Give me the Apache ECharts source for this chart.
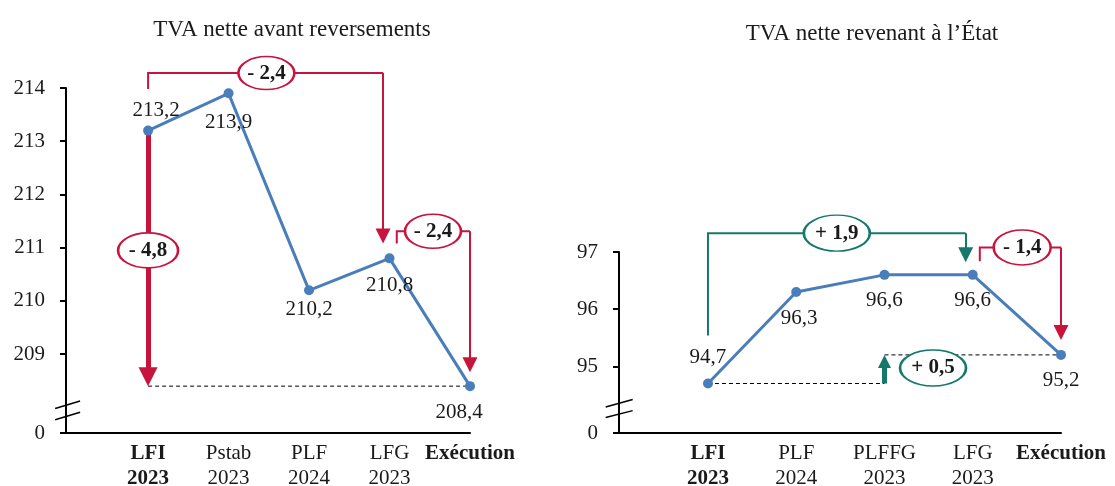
<!DOCTYPE html>
<html>
<head>
<meta charset="utf-8">
<script src="https://cdn.jsdelivr.net/npm/echarts@6/dist/echarts.min.js"></script>
<style>
  html, body { margin: 0; padding: 0; background: #fff; }
  #chart { width: 1115px; height: 486px; }
</style>
</head>
<body>
<div id="chart"></div>
<script>
// Données | Data
const leftCategories = ['LFI\n2023', 'Pstab\n2023', 'PLF\n2024', 'LFG\n2023', 'Exécution'];
const leftValues = [213.2, 213.9, 210.2, 210.8, 208.4];
const leftTicks = [209, 210, 211, 212, 213, 214];

const rightCategories = ['LFI\n2023', 'PLF\n2024', 'PLFFG\n2023', 'LFG\n2023', 'Exécution'];
const rightValues = [94.7, 96.3, 96.6, 96.6, 95.2];
const rightTicks = [95, 96, 97];

// écarts affichés dans les bulles | variations shown in the ovals
const leftVariations = ['- 2,4', '- 4,8', '- 2,4'];
const rightVariations = ['+ 1,9', '- 1,4', '+ 0,5'];

const boldCategories = [0, 4];

// styles
const RED = '#C8143C';
const TEAL = '#14796B';
const BLUE = '#4A7EBB';
const INK = '#1a1a1a';
const FONT = 'Liberation Serif';
const ELLIPSE = 'path://M0,10 A10,10 0 1,1 20,10 A10,10 0 1,1 0,10 Z';

// axe coupé : la valeur basse est affichée « 0 » | broken axis, floor shown as 0
const leftFloor = 207.52;
const rightFloor = 93.834;

const grids = [
    { left: 66, top: 88, width: 404, height: 345, outerBoundsMode: 'none' },
    { left: 619, top: 252, width: 442, height: 181, outerBoundsMode: 'none' }
];
// unités de l'axe par pixel | axis units per pixel
const unitsPerPx = [
    (leftTicks[leftTicks.length - 1] - leftFloor) / grids[0].height,
    (rightTicks[rightTicks.length - 1] - rightFloor) / grids[1].height
];

const fmt = v => v.toFixed(1).replace('.', ',');

function categoryFormatter(names) {
    return function (v) {
        const i = Math.round(v);
        const style = boldCategories.includes(i) ? 'b' : 'n';
        return names[i].split('\n').map(p => '{' + style + '|' + p + '}').join('\n');
    };
}

const richCat = {
    b: { fontFamily: FONT, fontWeight: 'bold', fontSize: 21, lineHeight: 25, color: INK },
    n: { fontFamily: FONT, fontSize: 21, lineHeight: 25, color: INK }
};

function xAxisFor(gridIndex, min, names) {
    return {
        type: 'value', gridIndex: gridIndex, min: min, max: 4,
        axisLine: { show: true, onZero: false, lineStyle: { color: '#000', width: 2 } },
        axisTick: { show: false },
        splitLine: { show: false },
        axisLabel: {
            customValues: [0, 1, 2, 3, 4],
            formatter: categoryFormatter(names),
            rich: richCat, margin: 8
        }
    };
}

function yAxisFor(gridIndex, min, max, ticks) {
    const vals = [min].concat(ticks);
    return {
        type: 'value', gridIndex: gridIndex, min: min, max: max,
        axisLine: { show: true, onZero: false, lineStyle: { color: '#000', width: 2 } },
        axisTick: { show: true, customValues: vals, length: 6, lineStyle: { color: '#000', width: 2 } },
        splitLine: { show: false },
        axisLabel: {
            customValues: vals,
            formatter: v => (v < ticks[0] - 0.5 ? '0' : String(Math.round(v))),
            fontFamily: FONT, fontSize: 21, color: INK, margin: 21
        }
    };
}

function lineSeries(gi, values, placements) {
    return {
        type: 'line', xAxisIndex: gi, yAxisIndex: gi, z: 6,
        data: values.map((v, i) => ({
            value: [i, v],
            label: placements[i]
        })),
        symbol: 'circle', symbolSize: 10,
        itemStyle: { color: BLUE },
        lineStyle: { color: BLUE, width: 3 },
        label: {
            show: true, fontFamily: FONT, fontSize: 21, color: INK,
            formatter: p => fmt(p.value[1])
        }
    };
}

function plainLines(gi, paths, color, width, type) {
    return {
        type: 'lines', coordinateSystem: 'cartesian2d', xAxisIndex: gi, yAxisIndex: gi,
        polyline: true, clip: false, z: 3,
        data: paths.map(c => ({ coords: c })),
        lineStyle: { color: color, width: width, type: type || 'solid', opacity: 1 }
    };
}

// flèche dont la pointe touche `tip` | arrow whose point lands on `tip`
function arrowLines(gi, arrows, color, width, head) {
    return {
        type: 'lines', coordinateSystem: 'cartesian2d', xAxisIndex: gi, yAxisIndex: gi,
        clip: false, z: 4,
        symbol: ['none', 'triangle'], symbolSize: head,
        data: arrows.map(a => {
            const dir = a.tip[1] < a.from[1] ? 1 : -1;
            const end = [a.tip[0], a.tip[1] + dir * (head[1] / 2) * unitsPerPx[gi]];
            return { coords: [a.from, end] };
        }),
        lineStyle: { color: color, width: width, opacity: 1 }
    };
}

function ovals(gi, items) {
    return {
        type: 'scatter', xAxisIndex: gi, yAxisIndex: gi, clip: false, z: 8,
        symbol: ELLIPSE,
        data: items.map(it => ({
            value: [it[0], it[1]],
            name: it[2],
            symbolSize: it[4],
            itemStyle: { color: '#fff', borderColor: it[3], borderWidth: 2, opacity: 1 }
        })),
        label: {
            show: true, position: 'inside', formatter: p => p.name,
            fontFamily: FONT, fontWeight: 'bold', fontSize: 21, color: INK,
            textBorderWidth: 0
        }
    };
}

const leftPlacement = [
    { position: 'top', distance: 5, offset: [8, 0] },
    { position: 'bottom', distance: 14 },
    { position: 'bottom', distance: 4 },
    { position: 'bottom', distance: 12 },
    { position: 'bottom', distance: 11, offset: [-11, 0] }
];
const rightPlacement = [
    { position: 'top', distance: 11 },
    { position: 'bottom', distance: 11, offset: [3, 0] },
    { position: 'bottom', distance: 10 },
    { position: 'bottom', distance: 10 },
    { position: 'bottom', distance: 10 }
];

const chart = echarts.init(document.getElementById('chart'));

const option = {
    animation: false,
    backgroundColor: '#fff',
    title: [
        { text: 'TVA nette avant reversements', left: 287, top: 13, textAlign: 'center',
          textStyle: { fontFamily: FONT, fontSize: 23, fontWeight: 'normal', color: INK } },
        { text: 'TVA nette revenant à l’État', left: 867, top: 17, textAlign: 'center',
          textStyle: { fontFamily: FONT, fontSize: 23, fontWeight: 'normal', color: INK } }
    ],
    grid: grids,
    xAxis: [
        xAxisFor(0, -1.02, leftCategories),
        xAxisFor(1, -1.008, rightCategories)
    ],
    yAxis: [
        yAxisFor(0, leftFloor, 214, leftTicks),
        yAxisFor(1, rightFloor, 97, rightTicks)
    ],
    series: [
        // graphique de gauche | left chart
        plainLines(0, [[[0, leftValues[4]], [4, leftValues[4]]]], '#000', 1, [4, 3]),
        plainLines(0, [
            [[0, 213.98], [0, 214.28], [2.92, 214.28]],
            [[3.09, 211.08], [3.09, 211.31], [4, 211.31]]
        ], RED, 2),
        arrowLines(0, [
            { from: [2.92, 214.28], tip: [2.92, 211.08] },
            { from: [4, 211.31], tip: [4, 208.66] }
        ], RED, 2, [13, 15]),
        arrowLines(0, [{ from: [0, leftValues[0]], tip: [0, leftValues[4]] }], RED, 5, [18, 19]),
        plainLines(0, [
            [[-1.155, 207.98], [-0.845, 208.12]],
            [[-1.155, 207.77], [-0.845, 207.91]]
        ], '#000', 1.5),
        ovals(0, [
            [1.47, 214.28, leftVariations[0], RED, [56, 33]],
            [0, 210.95, leftVariations[1], RED, [60, 35]],
            [3.54, 211.31, leftVariations[2], RED, [56, 34]]
        ]),
        lineSeries(0, leftValues, leftPlacement),

        // graphique de droite | right chart
        plainLines(1, [
            [[0, rightValues[0]], [2, rightValues[0]]],
            [[2, rightValues[4]], [4, rightValues[4]]]
        ], '#000', 1, [4, 3]),
        plainLines(1, [[[0, 95.54], [0, 97.33], [2.92, 97.33]]], TEAL, 2),
        arrowLines(1, [{ from: [2.92, 97.33], tip: [2.92, 96.82] }], TEAL, 2, [14, 15]),
        plainLines(1, [[[3.08, 96.84], [3.08, 97.08], [4, 97.08]]], RED, 2),
        arrowLines(1, [{ from: [4, 97.08], tip: [4, 95.46] }], RED, 2, [13, 15]),
        arrowLines(1, [{ from: [2, rightValues[0]], tip: [2, rightValues[4]] }], TEAL, 5, [17, 13]),
        plainLines(1, [
            [[-1.159, 94.29], [-0.853, 94.42]],
            [[-1.159, 94.105], [-0.853, 94.225]]
        ], '#000', 1.5),
        ovals(1, [
            [1.46, 97.33, rightVariations[0], TEAL, [66, 36]],
            [3.56, 97.08, rightVariations[1], RED, [57, 35]],
            [2.55, 94.97, rightVariations[2], TEAL, [66, 36]]
        ]),
        lineSeries(1, rightValues, rightPlacement)
    ]
};

chart.setOption(option);
</script>
</body>
</html>
